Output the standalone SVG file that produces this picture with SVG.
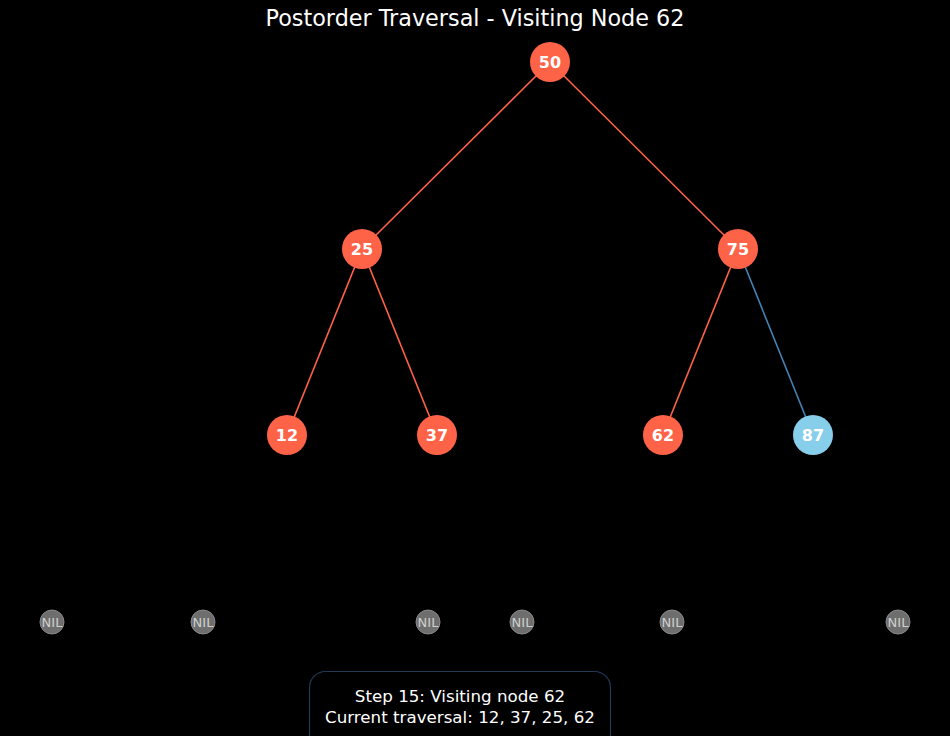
<svg xmlns="http://www.w3.org/2000/svg" width="950" height="736" viewBox="0 0 950 736">
<style>
text{font-family:"DejaVu Sans","Liberation Sans",sans-serif;}
.n circle{fill:#ff6347;}
.n text{fill:#fff;font-weight:bold;font-size:16px;text-anchor:middle;}
.nil circle{fill:#6e6e6e;stroke:#8a8a8a;stroke-width:1;}
.nil text{fill:#cfcfcf;font-size:13px;text-anchor:middle;}
.e{stroke:#ff6347;stroke-width:1.6;fill:none;}
.eb{stroke:#4682b4;stroke-width:1.6;fill:none;}
</style>
<rect width="950" height="736" fill="#000"/>
<text x="475" y="26" font-size="22.3" fill="#fff" text-anchor="middle">Postorder Traversal - Visiting Node 62</text>
<g id="edges">
<line class="e" x1="550" y1="62" x2="362" y2="249"/>
<line class="e" x1="550" y1="62" x2="738" y2="249"/>
<line class="e" x1="362" y1="249" x2="287" y2="435"/>
<line class="e" x1="362" y1="249" x2="437" y2="435"/>
<line class="e" x1="738" y1="249" x2="663" y2="435"/>
<line class="eb" x1="738" y1="249" x2="813" y2="435"/>
</g>
<g id="n50" class="n"><circle cx="550" cy="62" r="20"/><text x="550" y="68">50</text></g>
<g id="n25" class="n"><circle cx="362" cy="249" r="20"/><text x="362" y="255">25</text></g>
<g id="n75" class="n"><circle cx="738" cy="249" r="20"/><text x="738" y="255">75</text></g>
<g id="n12" class="n"><circle cx="287" cy="435" r="20"/><text x="287" y="441">12</text></g>
<g id="n37" class="n"><circle cx="437" cy="435" r="20"/><text x="437" y="441">37</text></g>
<g id="n62" class="n"><circle cx="663" cy="435" r="20"/><text x="663" y="441">62</text></g>
<g id="n87" class="n"><circle cx="813" cy="435" r="20" style="fill:#87ceeb"/><text x="813" y="441">87</text></g>
<g id="nil1" class="nil"><circle cx="52" cy="622" r="12"/><text x="52" y="627">NIL</text></g>
<g id="nil2" class="nil"><circle cx="203" cy="622" r="12"/><text x="203" y="627">NIL</text></g>
<g id="nil3" class="nil"><circle cx="428" cy="622" r="12"/><text x="428" y="627">NIL</text></g>
<g id="nil4" class="nil"><circle cx="522" cy="622" r="12"/><text x="522" y="627">NIL</text></g>
<g id="nil5" class="nil"><circle cx="672" cy="622" r="12"/><text x="672" y="627">NIL</text></g>
<g id="nil6" class="nil"><circle cx="898" cy="622" r="12"/><text x="898" y="627">NIL</text></g>
<g id="info">
<rect x="309.5" y="671.5" width="301" height="80" rx="16" fill="#000" stroke="#1f3b57" stroke-width="1.2"/>
<text x="460" y="702" font-size="16.7" fill="#fff" text-anchor="middle">Step 15: Visiting node 62</text>
<text x="460" y="723" font-size="16.7" fill="#fff" text-anchor="middle">Current traversal: 12, 37, 25, 62</text>
</g>
</svg>
